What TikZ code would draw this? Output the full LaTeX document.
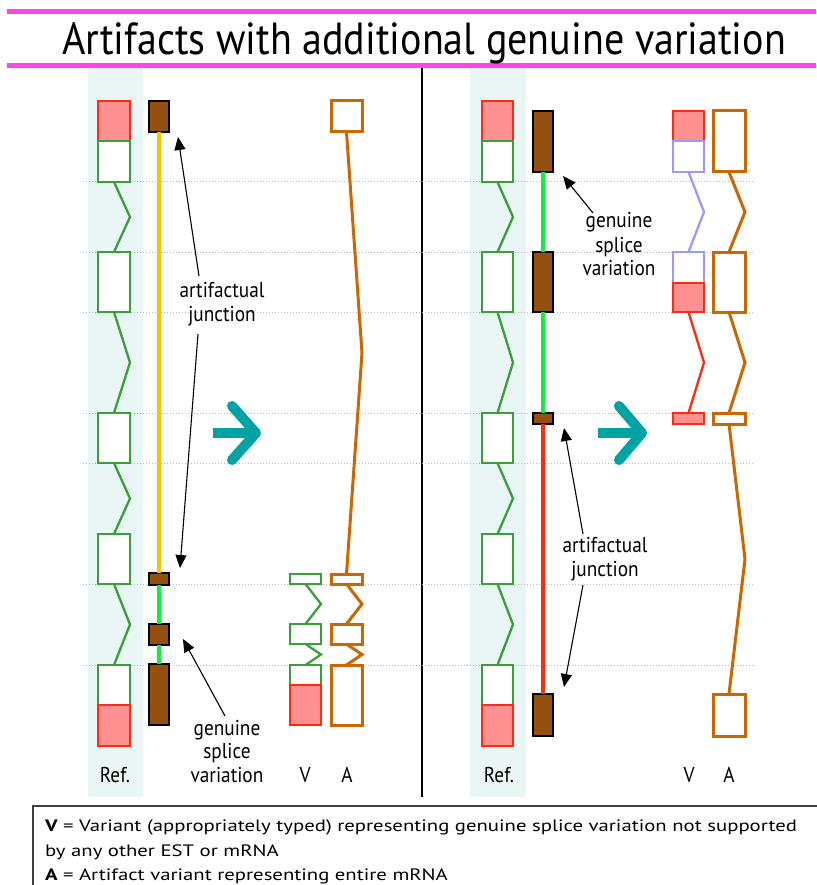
\documentclass[tikz,border=0pt]{standalone}
\usepackage{fontspec}
\usepackage{graphicx}
\setmainfont{PT Sans}
\usetikzlibrary{arrows.meta,calc}
\definecolor{magline}{HTML}{FF44EE}
\definecolor{refbg}{HTML}{EAF6F6}
\definecolor{exgreen}{HTML}{3A9E3A}
\definecolor{exred}{HTML}{FF2A10}
\definecolor{expink}{HTML}{FF9090}
\definecolor{estbrown}{HTML}{93500F}
\definecolor{aorange}{HTML}{CC6600}
\definecolor{lav}{HTML}{9999FF}
\definecolor{yel}{HTML}{FFC000}
\definecolor{brgreen}{HTML}{10EE40}
\definecolor{tealc}{HTML}{00A3A3}
\newlength\tmpw
\newcommand\lblfont{\fontsize{21.5}{24}\selectfont}
\newcommand\legfont{\fontsize{16.5}{20}\selectfont}
\newcommand\bx[6]{\node[#6,minimum width={(#4)-(#2)},minimum height={(#5)-(#3)}] (#1) at ({((#2)+(#4))/2},{((#3)+(#5))/2}) {};}
\newcommand\intr[3]{\draw[#3] (#1.south) -- ($(#1.south east)!0.5!(#2.north east)$) -- (#2.north);}
\newcommand\lb[1]{\scalebox{\lsx}[1]{\lblfont #1}}
\begin{document}
\settowidth\tmpw{\lblfont artifactual}%
\pgfmathsetmacro\lsx{85/\tmpw}%
\settowidth\tmpw{\legfont\textbf{V} = Variant (appropriately typed) representing genuine splice variation not supported}%
\pgfmathsetmacro\gsx{752/\tmpw}%
\begin{tikzpicture}[x=1pt,y=-1pt,
  every node/.style={inner sep=0pt,outer sep=0pt},
  gex/.style={draw=exgreen,fill=white,line width=2.2pt},
  rex/.style={draw=exred,fill=expink,line width=2.2pt},
  lex/.style={draw=lav,fill=white,line width=2.2pt},
  estbox/.style={draw=black,fill=estbrown,line width=2.5pt},
  aex/.style={draw=aorange,fill=white,line width=3pt},
  gin/.style={exgreen,line width=2.3pt},
  lin/.style={lav,line width=2.3pt},
  rin/.style={exred,line width=2.3pt},
  ain/.style={aorange,line width=3pt},
  estline/.style={line width=3.5pt},
  dotl/.style={gray!55,dotted,line width=1pt},
  ptr/.style={black,line width=1.1pt,-{Triangle[length=13pt,width=11pt]}},
  chev/.style={tealc,line width=10pt,line cap=round,line join=round},
  lbl/.style={anchor=base}]
\useasboundingbox (0,0) rectangle (816,885);
\fill[white] (0,0) rectangle (816,885);
% title
\draw[magline,line width=5pt] (7,11.5) -- (816,11.5);
\draw[magline,line width=5pt] (7,66) -- (816,66);
\node[anchor=base west] (title) at (62,55) {\resizebox{724pt}{32pt}{Artifacts with additional genuine variation}};
% reference columns
\fill[refbg] (88,68) rectangle (143,797);
\fill[refbg] (470,68) rectangle (526,797);
% divider
\draw[line width=2pt] (422,68) -- (422,797);
% dotted guides
\foreach \yy in {182,252,312,413,463,584,665} \draw[dotl] (83,\yy) -- (755,\yy);
%%%%%%%%%% LEFT PANEL
% ref
\bx{Lr1}{98}{101}{130}{141}{rex}
\bx{Lg1}{98}{141}{130}{182}{gex}
\bx{Lg2}{98}{252}{130}{312}{gex}
\bx{Lg3}{98}{413}{130}{463}{gex}
\bx{Lg4}{98}{534}{130}{584}{gex}
\bx{Lg5}{98}{665}{130}{705}{gex}
\bx{Lr5}{98}{705}{130}{746}{rex}
\intr{Lg1}{Lg2}{gin}
\intr{Lg2}{Lg3}{gin}
\intr{Lg3}{Lg4}{gin}
\intr{Lg4}{Lg5}{gin}
% EST
\bx{Lt1}{149}{101}{169}{132}{estbox}
\bx{Lt2}{149}{573}{169}{585}{estbox}
\bx{Lt3}{149}{624}{169}{645}{estbox}
\bx{Lt4}{149}{664}{169}{725}{estbox}
\draw[estline,yel] (Lt1.south) -- (Lt2.north);
\draw[estline,brgreen] (Lt2.south) -- (Lt3.north);
\draw[estline,brgreen] (Lt3.south) -- (Lt4.north);
% V
\bx{Lv1}{290}{574}{321}{584}{gex}
\bx{Lv2}{290}{624}{321}{644}{gex}
\bx{Lv3}{290}{665}{321}{685}{gex}
\bx{Lv4}{290}{685}{321}{725}{rex}
\intr{Lv1}{Lv2}{gin}
\intr{Lv2}{Lv3}{gin}
% A
\bx{La0}{331}{101}{362}{132}{aex}
\bx{La1}{331}{574}{362}{584}{aex}
\bx{La2}{331}{624}{362}{644}{aex}
\bx{La3}{331}{665}{362}{725}{aex}
\intr{La0}{La1}{ain}
\intr{La1}{La2}{ain}
\intr{La2}{La3}{ain}
% chevron
\draw[tealc,line width=10pt] (213,433) -- (250,433);
\draw[chev] (232,406) -- (256,433) -- (232,460);
% labels
\node[lbl] (Lart1) at (222,297) {\lb{artifactual}};
\node[lbl] (Lart2) at (222,321) {\lb{junction}};
\coordinate (Lp1s) at (199,276);
\coordinate (Lp1e) at (178,137);
\coordinate (Lp2s) at (198,334);
\coordinate (Lp2e) at (180,568);
\draw[ptr] (Lp1s) -- (Lp1e);
\draw[ptr] (Lp2s) -- (Lp2e);
\node[lbl] (Lgen1) at (227,735) {\lb{genuine}};
\node[lbl] (Lgen2) at (227,758) {\lb{splice}};
\node[lbl] (Lgen3) at (227,782) {\lb{variation}};
\coordinate (Lp3s) at (225,716);
\coordinate (Lp3e) at (183,639);
\draw[ptr] (Lp3s) -- (Lp3e);
\node[lbl] (Lref) at (115,782) {\lb{Ref.}};
\node[lbl] (LV) at (305,782) {\lb{V}};
\node[lbl] (LA) at (347,782) {\lb{A}};
%%%%%%%%%% RIGHT PANEL
\bx{Rr1}{482}{101}{513}{141}{rex}
\bx{Rg1}{482}{141}{513}{182}{gex}
\bx{Rg2}{482}{252}{513}{312}{gex}
\bx{Rg3}{482}{413}{513}{463}{gex}
\bx{Rg4}{482}{534}{513}{584}{gex}
\bx{Rg5}{482}{665}{513}{705}{gex}
\bx{Rr5}{482}{705}{513}{746}{rex}
\intr{Rg1}{Rg2}{gin}
\intr{Rg2}{Rg3}{gin}
\intr{Rg3}{Rg4}{gin}
\intr{Rg4}{Rg5}{gin}
% EST
\bx{Rs1}{533}{111}{553}{172}{estbox}
\bx{Rs2}{533}{252}{553}{312}{estbox}
\bx{Rs3}{533}{413}{553}{424}{estbox}
\bx{Rs4}{533}{694}{553}{736}{estbox}
\draw[estline,brgreen] (Rs1.south) -- (Rs2.north);
\draw[estline,brgreen] (Rs2.south) -- (Rs3.north);
\draw[estline,exred] (Rs3.south) -- (Rs4.north);
% V
\bx{Rw1}{673}{111}{704}{141}{rex}
\bx{Rw2}{673}{141}{704}{172}{lex}
\bx{Rw3}{673}{252}{704}{283}{lex}
\bx{Rw4}{673}{283}{704}{312}{rex}
\bx{Rw5}{673}{413}{704}{424}{rex}
\intr{Rw2}{Rw3}{lin}
\intr{Rw4}{Rw5}{rin}
% A
\bx{Rb1}{713}{111}{745}{172}{aex}
\bx{Rb2}{713}{252}{745}{312}{aex}
\bx{Rb3}{713}{413}{745}{424}{aex}
\bx{Rb4}{713}{694}{745}{736}{aex}
\intr{Rb1}{Rb2}{ain}
\intr{Rb2}{Rb3}{ain}
\intr{Rb3}{Rb4}{ain}
% chevron
\draw[tealc,line width=10pt] (598,433) -- (636,433);
\draw[chev] (619,406) -- (642,433) -- (619,460);
% labels
\node[lbl] (Rgen1) at (619,228) {\lb{genuine}};
\node[lbl] (Rgen2) at (619,252) {\lb{splice}};
\node[lbl] (Rgen3) at (619,275) {\lb{variation}};
\coordinate (Rp1s) at (593,213);
\coordinate (Rp1e) at (563,176);
\draw[ptr] (Rp1s) -- (Rp1e);
\node[lbl] (Rart1) at (605,552) {\lb{artifactual}};
\node[lbl] (Rart2) at (605,576) {\lb{junction}};
\coordinate (Rp2s) at (583,534);
\coordinate (Rp2e) at (564,428);
\coordinate (Rp3s) at (583,585);
\coordinate (Rp3e) at (564,687);
\draw[ptr] (Rp2s) -- (Rp2e);
\draw[ptr] (Rp3s) -- (Rp3e);
\node[lbl] (Rref) at (499,782) {\lb{Ref.}};
\node[lbl] (RV) at (689,782) {\lb{V}};
\node[lbl] (RA) at (729,782) {\lb{A}};
%%%%%%%%%% LEGEND
\draw[black!75,line width=1.5pt] (33,906) -- (33,806) -- (830,806);
\node[anchor=base west] (leg1) at (45,831) {\scalebox{\gsx}[1]{\legfont\textbf{V} = Variant (appropriately typed) representing genuine splice variation not supported}};
\node[anchor=base west] (leg2) at (45,856) {\scalebox{\gsx}[1]{\legfont by any other EST or mRNA}};
\node[anchor=base west] (leg3) at (45,880) {\scalebox{\gsx}[1]{\legfont\textbf{A} = Artifact variant representing entire mRNA}};
\end{tikzpicture}
\end{document}
